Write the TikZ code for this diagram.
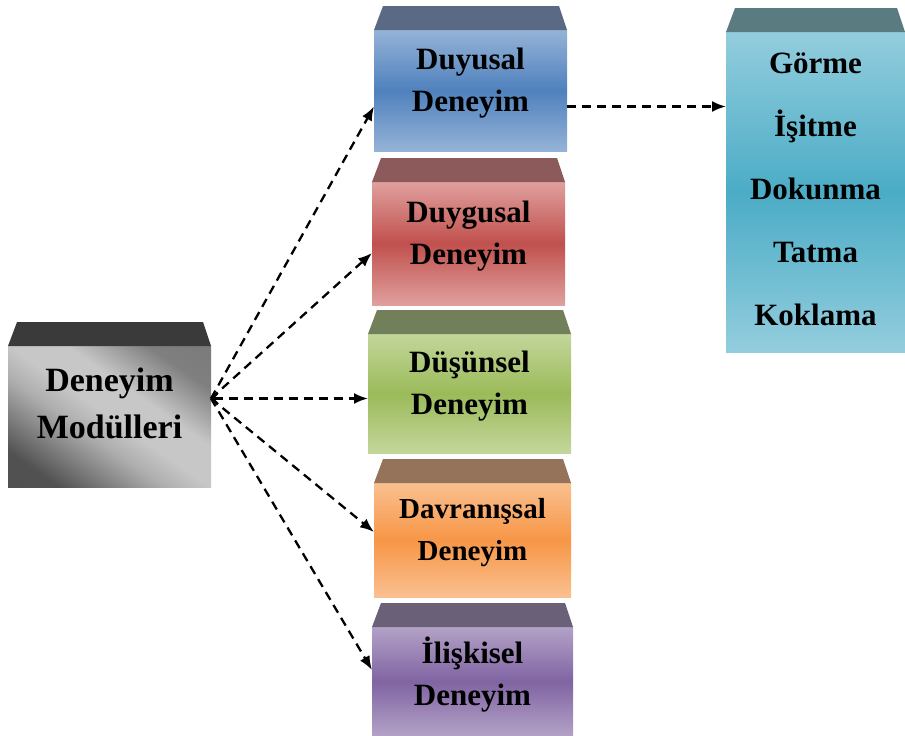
\documentclass[tikz,border=0pt]{standalone}
\usepackage{fontspec}
\setmainfont{Liberation Serif}
\usetikzlibrary{arrows.meta}

% Palette: light / dark tones of each block and the colour of its lid
\definecolor{blueL}{HTML}{95B3D7}\definecolor{blueD}{HTML}{4F81BD}\definecolor{blueT}{HTML}{5A6A84}
\definecolor{redL}{HTML}{E0A09E}\definecolor{redD}{HTML}{C0504D}\definecolor{redT}{HTML}{8C5A5A}
\definecolor{greenL}{HTML}{C3D69B}\definecolor{greenD}{HTML}{9BBB59}\definecolor{greenT}{HTML}{71805A}
\definecolor{orangeL}{HTML}{FAC090}\definecolor{orangeD}{HTML}{F79646}\definecolor{orangeT}{HTML}{94735A}
\definecolor{purpleL}{HTML}{B3A2C7}\definecolor{purpleD}{HTML}{8064A2}\definecolor{purpleT}{HTML}{6A6078}
\definecolor{aquaL}{HTML}{93CDDD}\definecolor{aquaD}{HTML}{4BACC6}\definecolor{aquaT}{HTML}{5A7B80}
\definecolor{grayT}{HTML}{3A3A3A}

% Soft grey sheen: dark corners at lower left and upper right, light across the middle
\pgfdeclarehorizontalshading{greysheen}{100bp}{%
  color(0bp)=(black!70); color(24bp)=(black!68); color(42bp)=(black!32);
  color(50bp)=(black!22); color(60bp)=(black!22); color(74bp)=(black!50); color(100bp)=(black!55)}

% Sloped lid on top of a block
\newcommand\blocklid[2]{%
  \fill[#2] (#1.north west) -- ([xshift=9pt,yshift=24pt]#1.north west)
    -- ([xshift=-8pt,yshift=24pt]#1.north east) -- (#1.north east) -- cycle;}

\begin{document}
\begin{tikzpicture}[x=1pt,y=-1pt,
  face/.style={anchor=north west, inner sep=0pt, outer sep=0pt},
  tone/.style args={#1/#2}{top color=#1, bottom color=#1, middle color=#2},
  caption/.style={font=\bfseries\fontsize{31}{42}\selectfont, align=center, text=black, inner sep=0pt},
  link/.style={line width=2.3pt, dash pattern=on 9pt off 6pt, -{Latex[length=14pt,width=11pt]}},
]
\useasboundingbox (0,0) rectangle (905,736);

% Blocks (front faces)
\node[face, minimum width=203pt, minimum height=141pt,
      shading=greysheen, shading angle=55] (mod) at (8,346) {};
\node[face, minimum width=193pt, minimum height=121pt, tone=blueL/blueD]     (duy) at (374,30) {};
\node[face, minimum width=193pt, minimum height=123pt, tone=redL/redD]       (dyg) at (372,182) {};
\node[face, minimum width=203pt, minimum height=119pt, tone=greenL/greenD]   (dus) at (368,334) {};
\node[face, minimum width=197pt, minimum height=114pt, tone=orangeL/orangeD] (dav) at (374,483) {};
\node[face, minimum width=201pt, minimum height=109pt, tone=purpleL/purpleD] (ili) at (372,627) {};
\node[face, minimum width=179pt, minimum height=320pt, tone=aquaL/aquaD]     (duyu) at (726,32) {};

% Lids
\blocklid{mod}{grayT}
\blocklid{duy}{blueT}
\blocklid{dyg}{redT}
\blocklid{dus}{greenT}
\blocklid{dav}{orangeT}
\blocklid{ili}{purpleT}
\blocklid{duyu}{aquaT}

% Labels
\node[caption, font=\bfseries\fontsize{34}{47}\selectfont] (modT) at ([yshift=13pt]mod.center) {Deneyim\\Modülleri};
\node[caption] (duyT) at ([yshift=7pt]duy.center) {Duyusal\\Deneyim};
\node[caption] (dygT) at ([yshift=7pt]dyg.center) {Duygusal\\Deneyim};
\node[caption] (dusT) at ([yshift=7pt]dus.center) {Düşünsel\\Deneyim};
\node[caption, font=\bfseries\fontsize{29}{42}\selectfont] (davT) at ([yshift=7pt]dav.center) {Davranışsal\\Deneyim};
\node[caption] (iliT) at ([yshift=7pt]ili.center) {İlişkisel\\Deneyim};
\node[caption, font=\bfseries\fontsize{31}{63}\selectfont] (duyuT) at ([yshift=3pt]duyu.center)
  {Görme\\İşitme\\Dokunma\\Tatma\\Koklama};

% Connectors
\coordinate (hub) at ([yshift=18pt]mod.east);
\coordinate (duyOut) at ([yshift=-16pt]duy.east);
\draw[link] (hub) -- ([yshift=-16pt]duy.west);
\draw[link] (hub) -- ([yshift=-9.5pt]dyg.west);
\draw[link, {Straight Barb[length=5pt,width=11pt]}-{Latex[length=14pt,width=11pt]}] (hub) -- (hub -| dus.west);
\draw[link] (hub) -- ([yshift=8pt]dav.west);
\draw[link] (hub) -- ([yshift=11.5pt]ili.west);
\draw[link] (duyOut) -- (duyOut -| duyu.west);
\end{tikzpicture}
\end{document}
